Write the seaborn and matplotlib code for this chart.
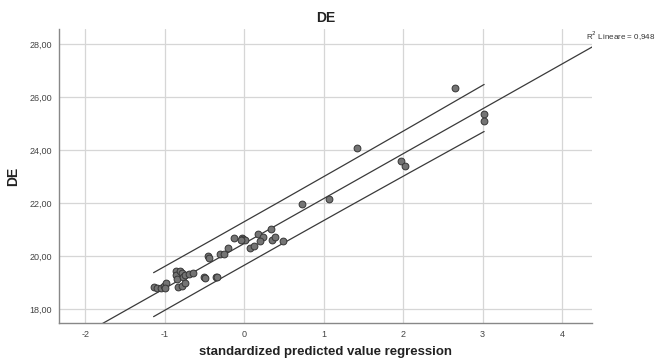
import numpy as np
import pandas as pd
import matplotlib
matplotlib.use("Agg")
import matplotlib.pyplot as plt
import seaborn as sns
from matplotlib.ticker import FuncFormatter

# ---- data ----
x_std = [-1.14, -1.10, -1.05, -1.01, -0.98, -0.99, -0.86, -0.86, -0.81, -0.78,
         -0.84, -0.77, -0.74, -0.70, -0.64, -0.83, -0.78, -0.74, -0.51, -0.49,
         -0.36, -0.34, -0.45, -0.44, -0.30, -0.25, -0.20, -0.13, -0.03, -0.01,
         0.01, -0.04, 0.07, 0.12, 0.18, 0.24, 0.20, 0.34, 0.35, 0.39,
         0.49, 0.73, 1.07, 1.42, 1.98, 2.02, 2.65, 3.02, 3.02]
de = [18.84, 18.78, 18.80, 18.88, 18.97, 18.80, 19.43, 19.28, 19.43, 19.35,
      19.13, 19.22, 19.28, 19.31, 19.37, 18.84, 18.88, 18.97, 19.22, 19.16,
      19.19, 19.22, 20.01, 19.91, 20.06, 20.06, 20.29, 20.67, 20.69, 20.64,
      20.60, 20.60, 20.31, 20.39, 20.83, 20.73, 20.57, 21.02, 20.59, 20.73,
      20.58, 21.96, 22.15, 24.08, 23.60, 23.41, 26.33, 25.35, 25.11]
x_ticks = [-2, -1, 0, 1, 2, 3, 4]
y_ticks = [18, 20, 22, 24, 26, 28]
r2_label = "R$^2$ Lineare = 0,948"
title = "DE"
x_label = "standardized predicted value regression"
y_label = "DE"

df = pd.DataFrame({"x": x_std, "y": de})

sns.set_theme(style="white")
plt.rcParams["font.family"] = ["Liberation Sans", "DejaVu Sans"]

fig = plt.figure(figsize=(6.58, 3.60), dpi=100)
ax = fig.add_axes([0.0897, 0.1028, 0.8103, 0.8166])

xlim = (-2.33, 4.38)
ylim = (17.47, 28.57)

# fit & prediction interval from the data
x = np.asarray(x_std)
y = np.asarray(de)
n = len(x)
b, a = np.polyfit(x, y, 1)
resid = y - (a + b * x)
s = np.sqrt(np.sum(resid ** 2) / (n - 2))
sxx = np.sum((x - x.mean()) ** 2)
tval = 2.012
xf = np.linspace(xlim[0], xlim[1], 200)
ax.plot(xf, a + b * xf, color="#3a3a3a", lw=0.9, zorder=2)
xp = np.linspace(x.min(), x.max(), 200)
half = tval * s * np.sqrt(1 + 1 / n + (xp - x.mean()) ** 2 / sxx)
ax.plot(xp, a + b * xp + half, color="#3a3a3a", lw=0.9, zorder=2)
ax.plot(xp, a + b * xp - half, color="#3a3a3a", lw=0.9, zorder=2)

sns.scatterplot(data=df, x="x", y="y", ax=ax, s=24, color="#747474",
                edgecolor="#363636", linewidth=0.7, zorder=3, legend=False)

ax.set_xlim(*xlim)
ax.set_ylim(*ylim)
ax.set_xticks(x_ticks)
ax.set_yticks(y_ticks)
ax.xaxis.set_major_formatter(FuncFormatter(lambda v, p: f"{v:.0f}"))
ax.yaxis.set_major_formatter(FuncFormatter(lambda v, p: f"{v:.2f}".replace(".", ",")))
ax.grid(True, color="#d6d6d6", lw=0.9, zorder=0)
ax.set_axisbelow(True)
for sp in ["top", "right"]:
    ax.spines[sp].set_visible(False)
for sp in ["left", "bottom"]:
    ax.spines[sp].set_color("#888888")
    ax.spines[sp].set_linewidth(1.0)
ax.tick_params(axis="both", labelsize=6.5, colors="#444444", length=0, pad=5)

ax.set_xlabel(x_label, fontsize=9.5, fontweight="bold", color="#222222", labelpad=5)
ax.set_ylabel(y_label, fontsize=10, fontweight="bold", color="#222222", labelpad=7)
ax.set_title(title, fontsize=10, fontweight="bold", color="#222222", pad=5)
fig.text(0.891, 0.898, r2_label, fontsize=5.8, color="#333333", ha="left", va="center")

fig.savefig("out.png", dpi=100)
